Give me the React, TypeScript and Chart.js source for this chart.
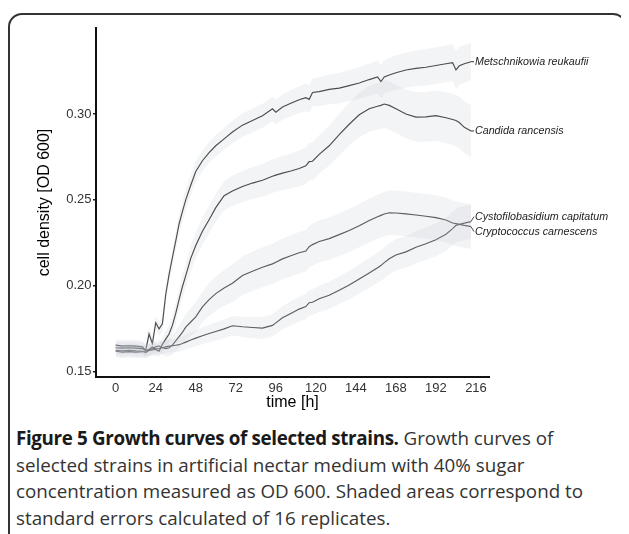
import React, { useEffect, useRef } from "react";
import { Chart, registerables } from "chart.js";

Chart.register(...registerables);

// time points [h]
const TIMES = [0, 4, 8, 12, 16, 18, 20, 22, 24, 26, 28, 30, 32, 34, 36, 38, 40, 42, 45, 48, 52, 56, 60, 65, 70, 76, 82, 88, 94, 96, 100, 105, 110, 114, 116, 118, 122, 128, 134, 140, 146, 152, 157, 159, 161, 164, 168, 174, 180, 186, 192, 198, 202, 204, 206, 209, 213];

// mean OD 600
const METSCHNIKOWIA = [0.1655, 0.1650, 0.1652, 0.1650, 0.1645, 0.1625, 0.1720, 0.1665, 0.1785, 0.1750, 0.1780, 0.1950, 0.2065, 0.2165, 0.2260, 0.2360, 0.2432, 0.2500, 0.2585, 0.2665, 0.2728, 0.2775, 0.2815, 0.2855, 0.2895, 0.2935, 0.2962, 0.2990, 0.3030, 0.3010, 0.3040, 0.3062, 0.3083, 0.3095, 0.3085, 0.3125, 0.3130, 0.3143, 0.3150, 0.3165, 0.3180, 0.3200, 0.3215, 0.3188, 0.3215, 0.3227, 0.3240, 0.3256, 0.3265, 0.3272, 0.3282, 0.3292, 0.3298, 0.3256, 0.3280, 0.3292, 0.3304];
const CANDIDA = [0.1640, 0.1638, 0.1640, 0.1638, 0.1635, 0.1625, 0.1630, 0.1645, 0.1630, 0.1620, 0.1660, 0.1690, 0.1720, 0.1770, 0.1840, 0.1920, 0.1995, 0.2060, 0.2160, 0.2235, 0.2318, 0.2385, 0.2455, 0.2525, 0.2552, 0.2578, 0.2598, 0.2614, 0.2638, 0.2644, 0.2656, 0.2668, 0.2683, 0.2698, 0.2723, 0.2725, 0.2765, 0.2815, 0.2880, 0.2940, 0.2995, 0.3030, 0.3045, 0.3050, 0.3058, 0.3050, 0.3030, 0.3000, 0.2982, 0.2983, 0.2990, 0.2978, 0.2968, 0.2962, 0.2950, 0.2922, 0.2901];
const CYSTOFILOBASIDIUM = [0.1620, 0.1615, 0.1618, 0.1615, 0.1617, 0.1620, 0.1625, 0.1628, 0.1632, 0.1636, 0.1640, 0.1645, 0.1650, 0.1652, 0.1655, 0.1658, 0.1665, 0.1673, 0.1685, 0.1696, 0.1710, 0.1723, 0.1735, 0.1750, 0.1768, 0.1762, 0.1758, 0.1754, 0.1770, 0.1785, 0.1815, 0.1840, 0.1865, 0.1880, 0.1902, 0.1905, 0.1925, 0.1945, 0.1975, 0.2005, 0.2040, 0.2075, 0.2105, 0.2118, 0.2135, 0.2158, 0.2180, 0.2198, 0.2225, 0.2245, 0.2268, 0.2300, 0.2333, 0.2352, 0.2358, 0.2365, 0.2374];
const CRYPTOCOCCUS = [0.1625, 0.1622, 0.1625, 0.1622, 0.1620, 0.1612, 0.1625, 0.1635, 0.1645, 0.1650, 0.1640, 0.1635, 0.1640, 0.1655, 0.1680, 0.1705, 0.1730, 0.1760, 0.1790, 0.1820, 0.1878, 0.1920, 0.1955, 0.1988, 0.2015, 0.2060, 0.2085, 0.2108, 0.2128, 0.2138, 0.2157, 0.2175, 0.2193, 0.2203, 0.2228, 0.2240, 0.2258, 0.2275, 0.2298, 0.2322, 0.2350, 0.2380, 0.2402, 0.2410, 0.2418, 0.2425, 0.2424, 0.2419, 0.2412, 0.2405, 0.2397, 0.2383, 0.2366, 0.2362, 0.2358, 0.2352, 0.2345];

// standard errors
const METSCHNIKOWIA_SE = [0.0035, 0.0035, 0.0035, 0.0035, 0.0035, 0.0035, 0.004, 0.004, 0.004, 0.004, 0.0045, 0.005, 0.005, 0.0055, 0.0055, 0.006, 0.006, 0.006, 0.006, 0.006, 0.006, 0.006, 0.0062, 0.0064, 0.0066, 0.0068, 0.007, 0.007, 0.0072, 0.0072, 0.0074, 0.0076, 0.0078, 0.008, 0.008, 0.0082, 0.0084, 0.0086, 0.0088, 0.009, 0.0092, 0.0094, 0.0096, 0.0096, 0.0098, 0.0098, 0.01, 0.0102, 0.0104, 0.0106, 0.0106, 0.0108, 0.0108, 0.011, 0.011, 0.011, 0.011];
const CANDIDA_SE = [0.0035, 0.0035, 0.0035, 0.0035, 0.0035, 0.0035, 0.0035, 0.0035, 0.0035, 0.0035, 0.004, 0.0045, 0.005, 0.0055, 0.006, 0.0065, 0.007, 0.007, 0.0075, 0.0075, 0.008, 0.008, 0.0082, 0.0085, 0.0088, 0.009, 0.0092, 0.0095, 0.0097, 0.0098, 0.01, 0.0102, 0.0105, 0.0107, 0.0108, 0.011, 0.0112, 0.0115, 0.012, 0.0125, 0.013, 0.0133, 0.0135, 0.0137, 0.0138, 0.014, 0.014, 0.0142, 0.0144, 0.0145, 0.0146, 0.0148, 0.0149, 0.015, 0.015, 0.015, 0.015];
const CYSTOFILOBASIDIUM_SE = [0.0035, 0.0035, 0.0035, 0.0035, 0.0035, 0.0035, 0.0035, 0.0035, 0.0035, 0.0035, 0.0036, 0.0037, 0.0038, 0.0039, 0.004, 0.0041, 0.0042, 0.0043, 0.0045, 0.0047, 0.0049, 0.0051, 0.0053, 0.0055, 0.0057, 0.0059, 0.0061, 0.0063, 0.0065, 0.0066, 0.0068, 0.007, 0.0072, 0.0074, 0.0075, 0.0076, 0.0077, 0.0079, 0.0081, 0.0083, 0.0085, 0.0087, 0.0088, 0.0089, 0.009, 0.009, 0.0091, 0.0092, 0.0093, 0.0094, 0.0095, 0.0096, 0.0097, 0.0098, 0.0099, 0.01, 0.01];
const CRYPTOCOCCUS_SE = [0.0035, 0.0035, 0.0035, 0.0035, 0.0035, 0.0035, 0.0035, 0.0035, 0.0035, 0.0035, 0.004, 0.0045, 0.005, 0.0055, 0.006, 0.0065, 0.007, 0.0075, 0.008, 0.0085, 0.009, 0.0095, 0.01, 0.0105, 0.011, 0.0112, 0.0115, 0.0116, 0.0117, 0.0118, 0.0118, 0.012, 0.012, 0.012, 0.012, 0.0121, 0.0122, 0.0123, 0.0124, 0.0125, 0.0126, 0.0127, 0.0128, 0.0128, 0.0129, 0.013, 0.013, 0.013, 0.013, 0.013, 0.013, 0.013, 0.013, 0.013, 0.013, 0.013, 0.013];

const SERIES_NAMES = ["Metschnikowia reukaufii", "Candida rancensis", "Cystofilobasidium capitatum", "Cryptococcus carnescens"];
const X_TICKS = [0, 24, 48, 72, 96, 120, 144, 168, 192, 216];
const Y_TICKS = [0.15, 0.2, 0.25, 0.3];
const X_TITLE = "time [h]";
const Y_TITLE = "cell density [OD 600]";

const CAPTION_BOLD = "Figure 5 Growth curves of selected strains.";
const CAPTION_LINES = [
  " Growth curves of",
  "selected strains in artificial nectar medium with 40% sugar",
  "concentration measured as OD 600. Shaded areas correspond to",
  "standard errors calculated of 16 replicates.",
];

const RIBBON = "rgba(190,195,205,0.18)";
const AXIS_FONT = '"Liberation Sans", Arial, sans-serif';

export default function App() {
  const ref = useRef<HTMLCanvasElement>(null);

  useEffect(() => {
    document.documentElement.style.overflow = "hidden";
    document.body.style.overflow = "hidden";
    const canvas = ref.current;
    if (!canvas) return;

    const series = [
      { name: SERIES_NAMES[0], mean: METSCHNIKOWIA, se: METSCHNIKOWIA_SE, color: "#333333" },
      { name: SERIES_NAMES[1], mean: CANDIDA, se: CANDIDA_SE, color: "#333333" },
      { name: SERIES_NAMES[2], mean: CYSTOFILOBASIDIUM, se: CYSTOFILOBASIDIUM_SE, color: "#474747" },
      { name: SERIES_NAMES[3], mean: CRYPTOCOCCUS, se: CRYPTOCOCCUS_SE, color: "#474747" },
    ];

    const datasets: any[] = [];
    series.forEach((s) => {
      datasets.push({
        data: TIMES.map((t, i) => ({ x: t, y: s.mean[i] + s.se[i] })),
        borderWidth: 0,
        borderColor: "rgba(0,0,0,0)",
        backgroundColor: RIBBON,
        pointRadius: 0,
        fill: false,
        tension: 0,
      });
      datasets.push({
        data: TIMES.map((t, i) => ({ x: t, y: s.mean[i] - s.se[i] })),
        borderWidth: 0,
        borderColor: "rgba(0,0,0,0)",
        backgroundColor: RIBBON,
        pointRadius: 0,
        fill: "-1",
        tension: 0,
      });
    });
    series.forEach((s) => {
      datasets.push({
        label: s.name,
        data: TIMES.map((t, i) => ({ x: t, y: s.mean[i] })),
        borderColor: s.color,
        borderWidth: 1.15,
        pointRadius: 0,
        fill: false,
        tension: 0,
      });
    });

    const annot = {
      id: "annot",
      afterDraw(chart: any) {
        const { ctx, chartArea } = chart;
        const xs = chart.scales.x;
        const ys = chart.scales.y;
        ctx.save();
        ctx.fillStyle = "#000";
        ctx.font = `16px ${AXIS_FONT}`;
        ctx.textAlign = "center";
        ctx.textBaseline = "middle";
        ctx.fillText(X_TITLE, (chartArea.left + chartArea.right) / 2, chartArea.bottom + 26);
        ctx.save();
        ctx.translate(chartArea.left - 51, (chartArea.top + chartArea.bottom) / 2);
        ctx.rotate(-Math.PI / 2);
        ctx.fillText(Y_TITLE, 0, 0);
        ctx.restore();

        // direct labels at line ends
        const last = TIMES.length - 1;
        const ends = series.map((s) => ({
          name: s.name,
          color: s.color,
          x: xs.getPixelForValue(TIMES[last]),
          y: ys.getPixelForValue(s.mean[last]),
          ly: ys.getPixelForValue(s.mean[last]),
        }));
        const gap = 15;
        const sorted = [...ends].sort((a, b) => a.y - b.y);
        for (let iter = 0; iter < 20; iter++) {
          for (let i = 1; i < sorted.length; i++) {
            const a = sorted[i - 1];
            const b = sorted[i];
            if (b.ly - a.ly < gap) {
              const mid = (a.ly + b.ly) / 2;
              a.ly = mid - gap / 2;
              b.ly = mid + gap / 2;
            }
          }
        }
        ctx.font = `italic 10.7px ${AXIS_FONT}`;
        ctx.textAlign = "left";
        ctx.textBaseline = "middle";
        ends.forEach((e) => {
          ctx.strokeStyle = e.color;
          ctx.lineWidth = 1;
          ctx.beginPath();
          ctx.moveTo(e.x, e.y);
          ctx.lineTo(e.x + 3, e.ly);
          ctx.stroke();
          ctx.fillStyle = "#222";
          ctx.fillText(e.name, e.x + 4, e.ly);
        });
        ctx.restore();
      },
    };

    const chart = new Chart(canvas, {
      type: "line",
      data: { datasets },
      plugins: [annot],
      options: {
        animation: false,
        responsive: false,
        devicePixelRatio: 1,
        layout: { padding: { left: 0, right: 136, top: 13, bottom: 18 } },
        plugins: { legend: { display: false }, tooltip: { enabled: false } },
        scales: {
          x: {
            type: "linear",
            min: -11.8,
            max: 223.8,
            afterBuildTicks: (scale: any) => {
              scale.ticks = X_TICKS.map((v) => ({ value: v }));
            },
            afterFit: (scale: any) => {
              scale.height = 30;
            },
            grid: { display: false, drawTicks: false, drawOnChartArea: false },
            border: { display: true, color: "#111", width: 2 },
            ticks: {
              color: "#333",
              font: { family: AXIS_FONT, size: 13 },
              padding: 4,
              maxRotation: 0,
              autoSkip: false,
              callback: (v: any) => String(v),
            },
          },
          y: {
            type: "linear",
            min: 0.147,
            max: 0.35,
            afterBuildTicks: (scale: any) => {
              scale.ticks = Y_TICKS.map((v) => ({ value: v }));
            },
            afterFit: (scale: any) => {
              scale.width = 86;
            },
            grid: { display: true, drawOnChartArea: false, drawTicks: true, tickLength: 3, color: "#222", lineWidth: 1.5 },
            border: { display: true, color: "#111", width: 2 },
            ticks: {
              color: "#333",
              font: { family: AXIS_FONT, size: 13 },
              padding: 1.5,
              autoSkip: false,
              callback: (v: any) => Number(v).toFixed(2),
            },
          },
        },
      },
    });
    return () => chart.destroy();
  }, []);

  return (
    <div
      style={{
        position: "relative",
        top: 5,
        width: 615,
        height: 540,
        border: "2px solid #333",
        borderRadius: 14,
        background: "#fff",
      }}
    >
      <canvas ref={ref} width={615} height={410} style={{ display: "block" }} />
      <div
        style={{
          position: "absolute",
          left: 6,
          top: 410,
          fontFamily: '"Open Sans", sans-serif',
          fontSize: 18.8,
          lineHeight: "26.5px",
          color: "#333",
          whiteSpace: "nowrap",
        }}
      >
        <div>
          <span style={{ fontWeight: 700, color: "#1a1a1a", letterSpacing: "-0.35px" }}>{CAPTION_BOLD}</span>
          <span>{CAPTION_LINES[0]}</span>
        </div>
        {CAPTION_LINES.slice(1).map((l, i) => (
          <div key={i}>{l}</div>
        ))}
      </div>
    </div>
  );
}
